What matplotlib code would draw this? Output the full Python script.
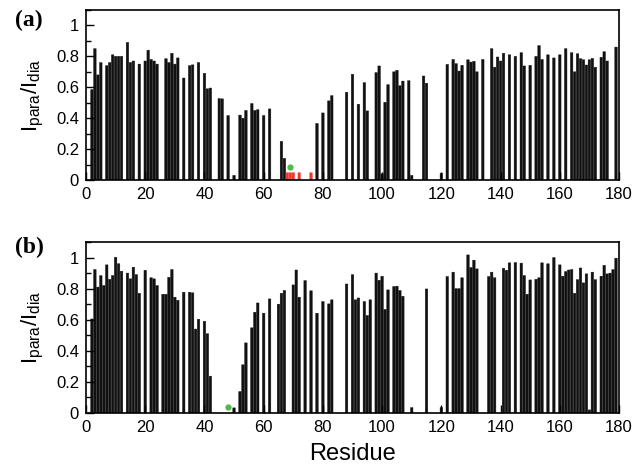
import matplotlib
matplotlib.use("Agg")
import matplotlib.pyplot as plt
from matplotlib.ticker import FixedLocator, MultipleLocator

plt.rcParams['font.family'] = ['Liberation Sans', 'DejaVu Sans']
plt.rcParams['mathtext.fontset'] = 'custom'
plt.rcParams['mathtext.rm'] = 'Liberation Sans'
plt.rcParams['mathtext.it'] = 'Liberation Sans'

# ---------------- data ----------------
res_a = [2, 3, 4, 5, 7, 8, 9, 10, 11, 12, 14, 15, 16, 18, 20, 21, 22, 23, 24,
         27, 28, 29, 30, 31, 33, 35, 36, 38, 40, 41, 42, 45, 46, 48, 50, 52, 53,
         54, 56, 57, 58, 60, 62, 66, 67, 78, 80, 82, 83, 88, 90, 92, 94, 95, 98,
         99, 100, 101, 102, 104, 105, 106, 107, 109, 110, 114, 115, 120, 122,
         124, 125, 126, 127, 129, 130, 131, 132, 134, 137, 138, 139, 140, 141,
         143, 145, 147, 148, 150, 152, 153, 154, 156, 158, 160, 162, 164, 165,
         166, 167, 168, 169, 170, 171, 172, 174, 175, 176, 179]
val_a = [0.585, 0.85, 0.68, 0.76, 0.74, 0.76, 0.81, 0.80, 0.80, 0.80, 0.89, 0.76,
         0.77, 0.75, 0.77, 0.84, 0.78, 0.77, 0.75, 0.785, 0.76, 0.82, 0.75, 0.79,
         0.66, 0.74, 0.745, 0.76, 0.69, 0.59, 0.595, 0.527, 0.525, 0.417, 0.03,
         0.42, 0.40, 0.45, 0.495, 0.45, 0.455, 0.417, 0.46, 0.25, 0.14, 0.366,
         0.434, 0.512, 0.546, 0.568, 0.684, 0.49, 0.63, 0.447, 0.695, 0.738, 0.04,
         0.503, 0.617, 0.70, 0.71, 0.61, 0.64, 0.643, 0.03, 0.673, 0.626, 0.043,
         0.748, 0.78, 0.753, 0.705, 0.742, 0.778, 0.763, 0.768, 0.70, 0.78, 0.85,
         0.73, 0.796, 0.77, 0.82, 0.81, 0.80, 0.824, 0.738, 0.742, 0.80, 0.87,
         0.78, 0.81, 0.79, 0.81, 0.85, 0.824, 0.70, 0.817, 0.785, 0.778, 0.744,
         0.778, 0.787, 0.73, 0.794, 0.83, 0.77, 0.86]
red_res_a = [68, 69, 70, 72, 76]
red_val_a = [0.047, 0.047, 0.047, 0.047, 0.047]
green_res_a = [69]
green_val_a = [0.086]

res_b = [2, 3, 4, 5, 6, 7, 8, 9, 10, 11, 12, 14, 15, 16, 17, 18, 20, 22, 23, 24,
         26, 27, 28, 29, 30, 31, 33, 35, 36, 37, 38, 40, 41, 42, 50, 52, 53, 54,
         56, 57, 58, 60, 62, 65, 66, 67, 70, 71, 72, 74, 76, 78, 80, 82, 83, 88,
         90, 91, 92, 94, 95, 96, 98, 99, 100, 101, 102, 104, 105, 106, 107, 110,
         115, 120, 122, 124, 125, 126, 127, 129, 130, 131, 132, 136, 137, 138,
         141, 142, 143, 145, 147, 148, 149, 150, 152, 153, 154, 156, 158, 160,
         161, 162, 163, 164, 165, 166, 167, 168, 169, 170, 171, 172, 174, 175,
         176, 177, 178, 179]
val_b = [0.605, 0.923, 0.81, 0.884, 0.82, 0.953, 0.86, 0.884, 1.002, 0.96, 0.912,
         0.90, 0.863, 0.938, 0.89, 0.77, 0.918, 0.87, 0.863, 0.82, 0.764, 0.764,
         0.873, 0.923, 0.745, 0.725, 0.777, 0.777, 0.773, 0.54, 0.603, 0.59, 0.51,
         0.237, 0.033, 0.138, 0.31, 0.451, 0.548, 0.648, 0.708, 0.642, 0.734, 0.70,
         0.77, 0.788, 0.824, 0.92, 0.745, 0.852, 0.786, 0.642, 0.717, 0.702, 0.728,
         0.83, 0.89, 0.728, 0.74, 0.717, 0.627, 0.728, 0.90, 0.854, 0.88, 0.666,
         0.792, 0.814, 0.816, 0.788, 0.751, 0.035, 0.798, 0.035, 0.878, 0.906,
         0.80, 0.80, 0.87, 1.017, 0.936, 0.983, 0.927, 0.878, 0.906, 0.87, 0.931,
         0.918, 0.966, 0.968, 0.964, 0.884, 0.764, 0.856, 0.86, 0.87, 0.966, 0.96,
         1.0, 0.953, 0.88, 0.91, 0.92, 0.923, 0.77, 0.858, 0.933, 0.837, 0.895,
         0.02, 0.906, 0.858, 0.88, 0.95, 0.895, 0.90, 0.923, 0.996]
green_res_b = [48]
green_val_b = [0.0375]

xticks = [0, 20, 40, 60, 80, 100, 120, 140, 160, 180]
xticklabels = ['0', '20', '40', '60', '80', '100', '120', '140', '160', '180']
yticks = [0, 0.2, 0.4, 0.6, 0.8, 1.0]
yticklabels = ['0', '0.2', '0.4', '0.6', '0.8', '1']
panel_labels = ['(a)', '(b)']

# ---------------- figure ----------------
fig = plt.figure(figsize=(6.44, 4.69), dpi=100)
ax_a = fig.add_axes([86/644, 1-180/469, 533/644, 170/469])
ax_b = fig.add_axes([86/644, 1-413/469, 533/644, 171/469])

bar_w = 0.85
black = '#111111'

ax_a.bar(res_a, val_a, width=bar_w, color=black, edgecolor=black, linewidth=0.3, snap=False)
ax_a.bar(red_res_a, red_val_a, width=bar_w, color='#e8392e', edgecolor='#e8392e',
         linewidth=0.3, snap=False)
ax_a.plot(green_res_a, green_val_a, 'o', color='#4cbb47', markersize=4.5, markeredgewidth=0)

ax_b.bar(res_b, val_b, width=bar_w, color=black, edgecolor=black, linewidth=0.3, snap=False)
ax_b.plot(green_res_b, green_val_b, 'o', color='#4cbb47', markersize=4.5, markeredgewidth=0)

for ax in (ax_a, ax_b):
    ax.set_xlim(0, 180)
    ax.set_ylim(0, 1.1)
    ax.xaxis.set_major_locator(FixedLocator(xticks))
    ax.set_xticklabels(xticklabels)
    ax.yaxis.set_major_locator(FixedLocator(yticks))
    ax.set_yticklabels(yticklabels)
    ax.yaxis.set_minor_locator(MultipleLocator(0.1))
    ax.tick_params(axis='both', which='major', direction='in', length=6, width=1.0,
                   labelsize=12, pad=5)
    ax.tick_params(axis='y', which='minor', direction='in', length=3.5, width=1.0)
    for s in ax.spines.values():
        s.set_linewidth(1.2)
    ax.set_ylabel(r'$\mathregular{I_{para}/I_{dia}}$', fontsize=16, labelpad=4)
    ax.yaxis.set_label_coords(-0.075, 0.5)

ax_b.set_xlabel('Residue', fontsize=17, labelpad=6)

fig.text(15/644, 1-20/469, panel_labels[0], fontsize=17, fontweight='bold',
         family='Liberation Serif', va='center', ha='left')
fig.text(15/644, 1-247/469, panel_labels[1], fontsize=17, fontweight='bold',
         family='Liberation Serif', va='center', ha='left')

fig.savefig('out.png', dpi=100)
